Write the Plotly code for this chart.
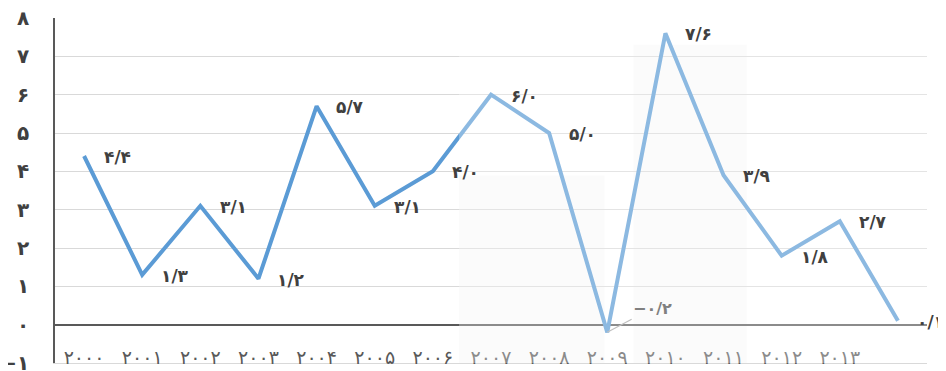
import plotly.graph_objects as go

# Data: yearly values
years = list(range(2000, 2015))
values = [4.4, 1.3, 3.1, 1.2, 5.7, 3.1, 4.0, 6.0, 5.0, -0.2, 7.6, 3.9, 1.8, 2.7, 0.1]
tick_years = list(range(2000, 2014))
y_ticks = [-1, 0, 1, 2, 3, 4, 5, 6, 7, 8]

FA_DIGITS = str.maketrans('0123456789.-', '۰۱۲۳۴۵۶۷۸۹/−')


def fa(s):
    """Convert latin digits to Persian digits"""
    return str(s).translate(FA_DIGITS)


fig = go.Figure()

fig.add_trace(go.Scatter(
    x=years,
    y=values,
    mode='lines',
    line=dict(color='#5B9BD5', width=4),
    hoverinfo='skip',
    showlegend=False,
))

# Data labels to the right of each point
for x, v in zip(years, values):
    if v < 0:
        fig.add_annotation(x=x, y=v, text=fa(f'{v:.1f}'), showarrow=True,
                           ax=45, ay=-24, arrowhead=0, arrowcolor='#bfbfbf',
                           arrowwidth=1.2, standoff=0, xanchor='center',
                           font=dict(family='DejaVu Sans', size=16, color='#808080',
                                     weight='bold'))
    else:
        fig.add_annotation(x=x, y=v, text=fa(f'{v:.1f}'), showarrow=False,
                           xshift=33, yshift=-1,
                           font=dict(family='DejaVu Sans', size=17, color='#404040',
                                     weight='bold'))

# Faded background overlay on the right part
fig.add_shape(type='rect', xref='x', yref='paper', x0=2006.45, x1=2014.5, y0=0, y1=1,
              fillcolor='white', opacity=0.3, line_width=0, layer='above')
fig.add_shape(type='rect', xref='x', yref='y', x0=2006.45, x1=2008.95, y0=-1, y1=3.9,
              fillcolor='#f6f6f6', opacity=0.6, line_width=0, layer='below')
fig.add_shape(type='rect', xref='x', yref='y', x0=2009.45, x1=2011.4, y0=-1, y1=7.3,
              fillcolor='#f6f6f6', opacity=0.6, line_width=0, layer='below')

# page body adds an 8px offset, margins compensate for it
fig.update_layout(
    width=946,
    height=371,
    margin=dict(l=47, r=27, t=10, b=16),
    plot_bgcolor='white',
    paper_bgcolor='white',
    font=dict(family='DejaVu Sans'),
    xaxis=dict(
        range=[1999.5, 2014.5],
        tickvals=tick_years,
        ticktext=[fa(y) for y in tick_years],
        ticklabelstandoff=-23,
        ticklabeloverflow='allow',
        automargin=False,
        showgrid=False,
        zeroline=False,
        showline=True,
        linecolor='#d9d9d9',
        tickfont=dict(size=19, color='#595959'),
        ticks='',
    ),
    yaxis=dict(
        range=[-1, 8],
        tickvals=y_ticks,
        ticktext=[fa(v) for v in y_ticks],
        automargin=False,
        ticklabeloverflow='allow',
        showgrid=True,
        gridcolor='#d9d9d9',
        gridwidth=1.2,
        zeroline=True,
        zerolinecolor='#595959',
        zerolinewidth=1.5,
        showline=True,
        linecolor='#595959',
        linewidth=1.5,
        ticks='',
        ticklabelstandoff=20,
        tickfont=dict(size=20, color='#404040', weight='bold'),
    ),
)

fig.write_html('out.html')
